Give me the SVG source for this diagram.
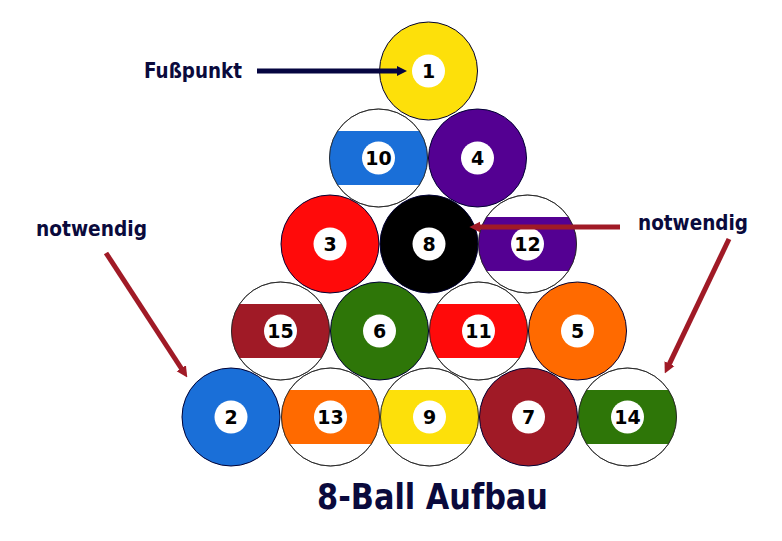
<svg xmlns="http://www.w3.org/2000/svg" width="782" height="541" viewBox="0 0 782 541">
<style>
.ball{stroke:#000033;stroke-width:1}
.shell{fill:#ffffff;stroke:#222222;stroke-width:0.8}
.dot{fill:#ffffff}
.num{font-family:"DejaVu Sans",Verdana,sans-serif;font-weight:bold;font-size:19px;fill:#000000;text-anchor:middle}
.lbl{font-family:"DejaVu Sans",Verdana,sans-serif;font-weight:bold;fill:#0a0a3c}
.navy{stroke:#050540;stroke-width:5;fill:none}
.red{stroke:#a01a26;stroke-width:5;fill:none}
</style>
<defs>
<path id="band" d="M-40.9,-27 L40.9,-27 A49,49 0 0 1 40.9,27 L-40.9,27 A49,49 0 0 1 -40.9,-27 Z"/>
<marker id="hn" viewBox="0 0 10 10" refX="4" refY="5" markerWidth="10" markerHeight="11" markerUnits="userSpaceOnUse" orient="auto"><path d="M0,0 L10,5 L0,10 Z" fill="#050540"/></marker>
<marker id="hr" viewBox="0 0 10 10" refX="4" refY="5" markerWidth="11" markerHeight="12" markerUnits="userSpaceOnUse" orient="auto"><path d="M0,0 L10,5 L0,10 Z" fill="#a01a26"/></marker>
</defs>
<rect width="782" height="541" fill="#ffffff"/>

<g id="ball1" transform="translate(428.5,71)"><circle r="49" class="ball" fill="#fde00a"/><circle r="16.5" class="dot"/><text y="7" class="num">1</text></g>
<g id="ball10" transform="translate(378.5,158)"><circle r="49" class="shell"/><use href="#band" fill="#1a6fd8"/><circle r="49" fill="none" stroke="#222" stroke-width="0.8"/><circle r="16.5" class="dot"/><text y="7" class="num">10</text></g>
<g id="ball4" transform="translate(477.5,158)"><circle r="49" class="ball" fill="#540092"/><circle r="16.5" class="dot"/><text y="7" class="num">4</text></g>

<g id="ball3" transform="translate(330,244)"><circle r="49" class="ball" fill="#ff0a0a"/><circle r="16.5" class="dot"/><text y="7" class="num">3</text></g>
<g id="ball8" transform="translate(429,244)"><circle r="49" class="ball" fill="#000000"/><circle r="16.5" class="dot"/><text y="7" class="num">8</text></g>
<g id="ball12" transform="translate(527.5,244)"><circle r="49" class="shell"/><use href="#band" fill="#540092"/><circle r="49" fill="none" stroke="#222" stroke-width="0.8"/><circle r="16.5" class="dot"/><text y="7" class="num">12</text></g>

<g id="ball15" transform="translate(280.5,331)"><circle r="49" class="shell"/><use href="#band" fill="#a01a26"/><circle r="49" fill="none" stroke="#222" stroke-width="0.8"/><circle r="16.5" class="dot"/><text y="7" class="num">15</text></g>
<g id="ball6" transform="translate(379.5,331)"><circle r="49" class="ball" fill="#2e7608"/><circle r="16.5" class="dot"/><text y="7" class="num">6</text></g>
<g id="ball11" transform="translate(478.5,331)"><circle r="49" class="shell"/><use href="#band" fill="#ff0a0a"/><circle r="49" fill="none" stroke="#222" stroke-width="0.8"/><circle r="16.5" class="dot"/><text y="7" class="num">11</text></g>
<g id="ball5" transform="translate(577.5,331)"><circle r="49" class="ball" fill="#ff6a00"/><circle r="16.5" class="dot"/><text y="7" class="num">5</text></g>

<g id="ball2" transform="translate(231,417)"><circle r="49" class="ball" fill="#1a6fd8"/><circle r="16.5" class="dot"/><text y="7" class="num">2</text></g>
<g id="ball13" transform="translate(330.5,417)"><circle r="49" class="shell"/><use href="#band" fill="#ff6a00"/><circle r="49" fill="none" stroke="#222" stroke-width="0.8"/><circle r="16.5" class="dot"/><text y="7" class="num">13</text></g>
<g id="ball9" transform="translate(429.5,417)"><circle r="49" class="shell"/><use href="#band" fill="#fde00a"/><circle r="49" fill="none" stroke="#222" stroke-width="0.8"/><circle r="16.5" class="dot"/><text y="7" class="num">9</text></g>
<g id="ball7" transform="translate(528.5,417)"><circle r="49" class="ball" fill="#a01a26"/><circle r="16.5" class="dot"/><text y="7" class="num">7</text></g>
<g id="ball14" transform="translate(627.5,417)"><circle r="49" class="shell"/><use href="#band" fill="#2e7608"/><circle r="49" fill="none" stroke="#222" stroke-width="0.8"/><circle r="16.5" class="dot"/><text y="7" class="num">14</text></g>

<g id="labels">
<text x="144" y="78" class="lbl" font-size="20.5" textLength="98" lengthAdjust="spacingAndGlyphs">Fußpunkt</text>
<text x="36" y="236" class="lbl" font-size="20.5" textLength="111" lengthAdjust="spacingAndGlyphs">notwendig</text>
<text x="638" y="230" class="lbl" font-size="20.5" textLength="110" lengthAdjust="spacingAndGlyphs">notwendig</text>
<text x="317" y="509" class="lbl" font-size="35" textLength="231" lengthAdjust="spacingAndGlyphs">8-Ball Aufbau</text>
</g>

<g id="connectors">
<line x1="257" y1="71" x2="401" y2="71" class="navy" marker-end="url(#hn)"/>
<line x1="620" y1="227" x2="476" y2="227" class="red" marker-end="url(#hr)"/>
<line x1="106" y1="253" x2="183.7" y2="372" class="red" marker-end="url(#hr)"/>
<line x1="729" y1="239" x2="667.6" y2="367.6" class="red" marker-end="url(#hr)"/>
</g>
</svg>
